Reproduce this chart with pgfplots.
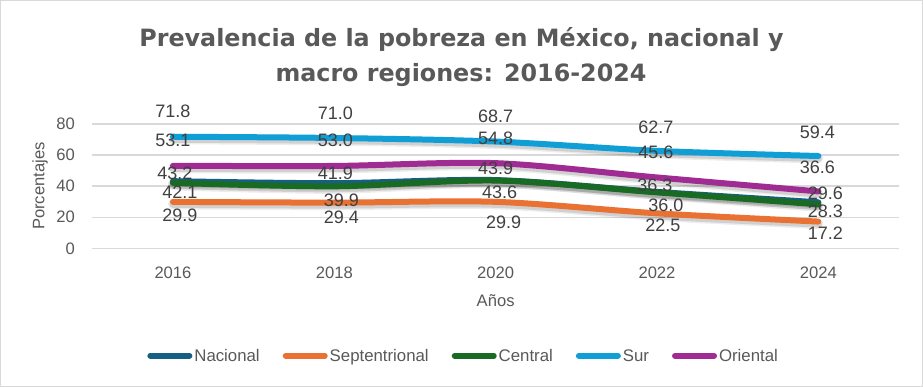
\documentclass[border=0pt]{standalone}
\usepackage{fontspec}
\setmainfont{Liberation Sans}
\newfontfamily\titlefont{DejaVu Sans}
\usepackage{pgfplots}
\pgfplotsset{compat=1.18}
\usepackage{pgfplotstable}

\definecolor{cNac}{HTML}{156082}
\definecolor{cSep}{HTML}{E97132}
\definecolor{cCen}{HTML}{196B24}
\definecolor{cSur}{HTML}{0F9ED5}
\definecolor{cOri}{HTML}{A02B93}
\definecolor{txt}{HTML}{595959}
\definecolor{lbl}{HTML}{404040}
\definecolor{gridc}{HTML}{D9D9D9}

% x y dx dy  (dx,dy: offset of the data label, in pt)
\pgfplotstableread{
x y dx dy
0 43.2 2 8.3
1 41.9 1 10
2 43.9 0 11.7
3 36.3 -2 6.7
4 29.6 7 8.8
}\tNac
\pgfplotstableread{
x y dx dy
0 29.9 7 -13.6
1 29.4 7 -14.3
2 29.9 8 -20
3 22.5 6 -12.2
4 17.2 7 -11.4
}\tSep
\pgfplotstableread{
x y dx dy
0 42.1 7 -9
1 39.9 7 -14.1
2 43.6 4 -11.6
3 36.0 9 -12.8
4 28.3 7 -6.6
}\tCen
\pgfplotstableread{
x y dx dy
0 71.8 0 25
1 71.0 1 24.6
2 68.7 0 24.8
3 62.7 -1 24
4 59.4 -1 24
}\tSur
\pgfplotstableread{
x y dx dy
0 53.1 0 25.7
1 53.0 1 25.8
2 54.8 0 24.8
3 45.6 -1 25.3
4 36.6 -1 24.6
}\tOri

\pgfplotsset{
  shadowA/.style={black, opacity=0.07, line width=10pt, smooth, line cap=round, line join=round, yshift=-2.5pt, no markers, forget plot},
  shadowB/.style={black, opacity=0.12, line width=7pt, smooth, line cap=round, line join=round, yshift=-2.5pt, no markers, forget plot},
  series/.style={line width=6pt, smooth, line cap=round, line join=round, no markers},
  labels/.style={draw=none, no markers, forget plot,
    nodes near coords={\pgfmathprintnumber[fixed,fixed zerofill,precision=1,assume math mode=true]{\pgfplotspointmeta}},
    visualization depends on={\thisrow{dx}\as\dx},
    visualization depends on={\thisrow{dy}\as\dy},
    every node near coord/.append style={anchor=center, inner sep=0pt, xshift=\dx pt, yshift=\dy pt,
      font=\fontsize{18}{21}\selectfont, text=lbl}},
}

\begin{document}
\begin{tikzpicture}
\useasboundingbox (0,0) rectangle (923pt,387pt);
\fill[white] (0,0) rectangle (923pt,387pt);
\draw[gridc, line width=1.2pt] (0.6pt,0.6pt) rectangle (922.4pt,386.4pt);

\node[anchor=base, font=\titlefont\bfseries\fontsize{23.8}{28}\selectfont, text=txt] at (461.5pt,340.3pt) {Prevalencia de la pobreza en México, nacional y};
\node[anchor=base, font=\titlefont\bfseries\fontsize{23.8}{28}\selectfont, text=txt] at (461pt,305pt) {macro regiones: 2016-2024};

\begin{axis}[
  at={(92.3pt,138.7pt)}, anchor=south west,
  scale only axis, width=806.7pt, height=124.3pt,
  xmin=-0.5, xmax=4.5, ymin=0, ymax=80,
  xtick={0,1,2,3,4}, xticklabels={2016,2018,2020,2022,2024},
  ytick={0,20,40,60,80},
  axis line style={draw=none},
  tick style={draw=none}, major tick length=0pt,
  ymajorgrids, grid style={color=gridc, line width=1.3pt},
  clip=false,
  /pgf/number format/assume math mode=true,
  ticklabel style={font=\fontsize{16.6}{19}\selectfont, text=txt},
  xticklabel style={anchor=north, inner sep=0pt, yshift=-18.5pt},
  yticklabel style={anchor=east, inner sep=0pt, xshift=-17.3pt},
  xlabel={Años}, ylabel={Porcentajes},
  every axis x label/.style={at={(axis description cs:0.5,0)}, anchor=center, yshift=-52pt, font=\fontsize{16.6}{19}\selectfont, text=txt},
  every axis y label/.style={at={(axis description cs:-0.0648,0.5)}, rotate=90, anchor=center, font=\fontsize{16.6}{19}\selectfont, text=txt},
  legend style={at={(axis description cs:0.4603,-0.864)}, anchor=center, draw=none, fill=none,
    font=\fontsize{16.8}{19}\selectfont, text=txt, legend columns=-1,
    nodes={inner xsep=2pt, inner ysep=0pt},
    /tikz/every even column/.append style={column sep=21pt}},
  legend image code/.code={\draw[#1, line width=6pt, line cap=round] (0pt,0pt) -- (39pt,0pt);},
]
\addplot[shadowA] table[x=x,y=y] {\tNac};
\addplot[shadowB] table[x=x,y=y] {\tNac};
\addplot[series, cNac] table[x=x,y=y] {\tNac};
\addlegendentry{\strut Nacional}
\addplot[shadowA] table[x=x,y=y] {\tSep};
\addplot[shadowB] table[x=x,y=y] {\tSep};
\addplot[series, cSep] table[x=x,y=y] {\tSep};
\addlegendentry{\strut Septentrional}
\addplot[shadowA] table[x=x,y=y] {\tCen};
\addplot[shadowB] table[x=x,y=y] {\tCen};
\addplot[series, cCen] table[x=x,y=y] {\tCen};
\addlegendentry{\strut Central}
\addplot[shadowA] table[x=x,y=y] {\tSur};
\addplot[shadowB] table[x=x,y=y] {\tSur};
\addplot[series, cSur] table[x=x,y=y] {\tSur};
\addlegendentry{\strut Sur}
\addplot[shadowA] table[x=x,y=y] {\tOri};
\addplot[shadowB] table[x=x,y=y] {\tOri};
\addplot[series, cOri] table[x=x,y=y] {\tOri};
\addlegendentry{\strut Oriental}

\addplot[labels] table[x=x,y=y] {\tNac};
\addplot[labels] table[x=x,y=y] {\tSep};
\addplot[labels] table[x=x,y=y] {\tCen};
\addplot[labels] table[x=x,y=y] {\tSur};
\addplot[labels] table[x=x,y=y] {\tOri};
\end{axis}
\end{tikzpicture}
\end{document}
